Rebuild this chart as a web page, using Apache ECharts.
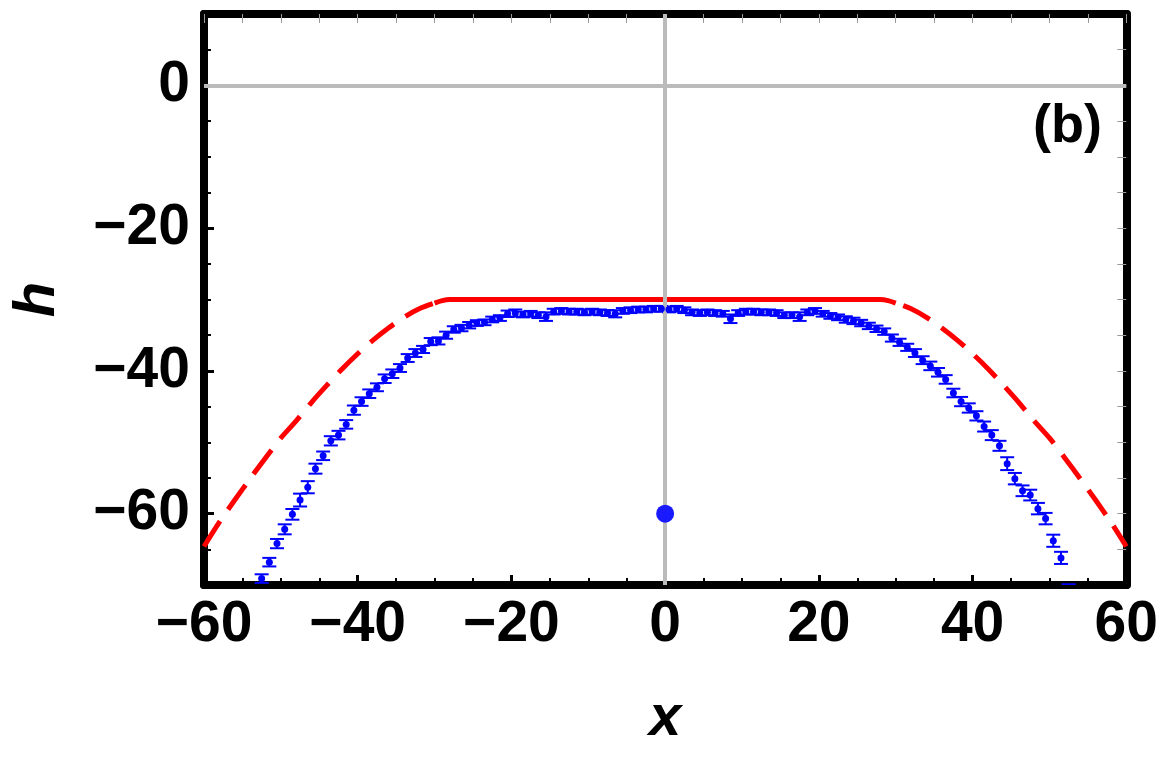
<!DOCTYPE html>
<html>
<head>
<meta charset="utf-8">
<script src="https://cdn.jsdelivr.net/npm/echarts@6/dist/echarts.min.js"></script>
<style>
  html, body { margin: 0; padding: 0; background: #fff; }
  #main { width: 1161px; height: 759px; }
</style>
</head>
<body>
<div id="main"></div>
<script>
// measured points (x, h, error)
var pointX = [
  -52.5, -51.5, -50.5, -49.5, -48.5, -47.5, -46.5, -45.5, -44.5, -43.5,
  -42.5, -41.5, -40.5, -39.5, -38.5, -37.5, -36.5, -35.5, -34.5, -33.5,
  -32.5, -31.5, -30.5, -29.5, -28.5, -27.5, -26.5, -25.5, -24.5, -23.5,
  -22.5, -21.5, -20.5, -19.5, -18.5, -17.5, -16.5, -15.5, -14.5, -13.5,
  -12.5, -11.5, -10.5, -9.5, -8.5, -7.5, -6.5, -5.5, -4.5, -3.5,
  -2.5, -1.5, -0.5, 0.5, 1.5, 2.5, 3.5, 4.5, 5.5, 6.5,
  7.5, 8.5, 9.5, 10.5, 11.5, 12.5, 13.5, 14.5, 15.5, 16.5,
  17.5, 18.5, 19.5, 20.5, 21.5, 22.5, 23.5, 24.5, 25.5, 26.5,
  27.5, 28.5, 29.5, 30.5, 31.5, 32.5, 33.5, 34.5, 35.5, 36.5,
  37.5, 38.5, 39.5, 40.5, 41.5, 42.5, 43.5, 44.5, 45.5, 46.5,
  47.5, 48.5, 49.5, 50.5, 51.5, 52.5
];
var pointH = [
  -69.1, -66.8, -64.2, -62.2, -60.1, -58.1, -56.3, -53.7, -51.9, -49.8,
  -49.0, -47.5, -45.5, -44.3, -43.2, -42.3, -41.1, -40.4, -39.6, -38.2,
  -37.5, -37.0, -35.9, -35.8, -35.0, -34.2, -34.0, -33.6, -33.3, -33.2,
  -32.8, -32.6, -32.0, -31.9, -32.1, -32.0, -32.2, -32.4, -31.7, -31.6,
  -31.7, -31.7, -31.8, -31.7, -31.8, -31.9, -32.0, -31.6, -31.5, -31.4,
  -31.4, -31.3, -31.3, -31.4, -31.3, -31.5, -31.8, -31.9, -31.8, -31.9,
  -32.0, -32.7, -31.9, -31.7, -31.7, -31.8, -31.8, -31.9, -32.2, -32.2,
  -32.4, -31.8, -31.6, -32.0, -32.3, -32.5, -32.8, -33.0, -33.3, -33.7,
  -34.1, -34.5, -35.4, -36.0, -36.7, -37.5, -38.5, -39.3, -40.2, -41.2,
  -43.1, -44.3, -45.2, -46.3, -47.8, -49.0, -50.5, -53.0, -55.1, -56.8,
  -57.4, -59.3, -60.7, -63.8, -66.2, -70.8
];
var pointErr = [
  0.6, 0.6, 0.65, 0.7, 0.75, 0.9, 0.85, 0.7, 0.6, 0.65,
  0.6, 0.6, 0.65, 0.6, 0.6, 0.55, 0.6, 0.6, 0.55, 0.55,
  0.55, 0.5, 0.5, 0.5, 0.5, 0.45, 0.45, 0.45, 0.4, 0.4,
  0.4, 0.4, 0.45, 0.5, 0.4, 0.4, 0.4, 0.6, 0.4, 0.4,
  0.4, 0.4, 0.4, 0.4, 0.4, 0.4, 0.5, 0.4, 0.4, 0.4,
  0.4, 0.4, 0.4, 0.4, 0.4, 0.4, 0.4, 0.4, 0.4, 0.4,
  0.4, 0.6, 0.4, 0.4, 0.4, 0.4, 0.4, 0.4, 0.4, 0.4,
  0.6, 0.4, 0.4, 0.4, 0.4, 0.4, 0.45, 0.45, 0.45, 0.45,
  0.45, 0.45, 0.5, 0.5, 0.5, 0.55, 0.55, 0.6, 0.6, 0.6,
  0.6, 0.65, 0.65, 0.65, 0.7, 0.7, 0.7, 0.9, 0.8, 0.75,
  0.75, 0.8, 0.8, 0.85, 0.85, 0.9
];

// theory curve: solid plateau, dashed wings
var leftDashX = [-60, -58, -56, -54, -52, -50, -48, -46, -44, -42, -40, -38, -36, -34, -32, -30];
var leftDashH = [-64.6, -61.2, -58.1, -55.1, -52.2, -49.4, -47.0, -44.4, -42.0, -39.7, -37.6, -35.7, -34.0, -32.5, -31.3, -30.5];
var plateauX = [-30, -29, -28, 28, 29, 30];
var plateauH = [-30.5, -30.15, -30, -30, -30.15, -30.5];
var rightDashX = [30, 32, 34, 36, 38, 40, 42, 44, 46, 48, 50, 52, 54, 56, 58, 60];
var rightDashH = [-30.5, -31.3, -32.5, -34.0, -35.7, -37.6, -39.7, -42.0, -44.4, -47.0, -49.4, -52.2, -55.1, -58.1, -61.2, -64.6];

var markerPoint = [[0, -60]];

var xMajor = [-60, -40, -20, 0, 20, 40, 60];
var xMinor = [-55, -50, -45, -35, -30, -25, -15, -10, -5, 5, 10, 15, 25, 30, 35, 45, 50, 55];
var yMajor = [-60, -40, -20, 0];
var yMinor = [-65, -55, -50, -45, -35, -30, -25, -15, -10, -5, 5];

function pairs(xs, ys) {
    var out = [];
    for (var i = 0; i < xs.length; i++) out.push([xs[i], ys[i]]);
    return out;
}

var pts = pairs(pointX, pointH);
var bars = [];
for (var i = 0; i < pointX.length; i++) {
    bars.push([pointX[i], pointH[i] - pointErr[i], pointH[i] + pointErr[i]]);
}

var FONT = "'Liberation Sans', Arial, sans-serif";
var minus = function (v) { return String(v).replace('-', '\u2212'); };

var myChart = echarts.init(document.getElementById('main'));

var frameLine = { show: true, onZero: false, lineStyle: { color: '#000', width: 8 } };
var hiddenLine = { show: false, onZero: false };
var noLabel = { show: false };

option = {
    backgroundColor: '#fff',
    animation: false,
    grid: { left: 204, right: 32.5, top: 14, bottom: 174 },
    xAxis: [{
        type: 'value', min: -60, max: 60, position: 'bottom',
        axisLine: frameLine,
        axisTick: { show: true, inside: true, length: 10, customValues: xMajor, lineStyle: { color: '#000', width: 3 } },
        axisLabel: {
            show: true, customValues: xMajor, margin: 12, formatter: minus,
            fontFamily: FONT, fontWeight: 'bold', fontSize: 57, color: '#000'
        },
        splitLine: { show: false },
        name: 'x', nameLocation: 'middle', nameGap: 105,
        nameTextStyle: { fontFamily: FONT, fontWeight: 'bold', fontStyle: 'italic', fontSize: 58, color: '#000' }
    }, {
        type: 'value', min: -60, max: 60, position: 'bottom',
        axisLine: hiddenLine,
        axisTick: { show: true, inside: true, length: 7, customValues: xMinor, lineStyle: { color: '#000', width: 2 } },
        axisLabel: noLabel, splitLine: { show: false }
    }, {
        type: 'value', min: -60, max: 60, position: 'top',
        axisLine: frameLine,
        axisTick: { show: true, inside: true, length: 9, customValues: xMajor.concat(xMinor), lineStyle: { color: '#999', width: 1 } },
        axisLabel: noLabel, splitLine: { show: false }
    }],
    yAxis: [{
        type: 'value', min: -70, max: 10, position: 'left',
        axisLine: frameLine,
        axisTick: { show: true, inside: true, length: 10, customValues: yMajor, lineStyle: { color: '#000', width: 3 } },
        axisLabel: {
            show: true, customValues: yMajor, margin: 14, formatter: minus,
            fontFamily: FONT, fontWeight: 'bold', fontSize: 57, color: '#000'
        },
        splitLine: { show: false },
        name: 'h', nameLocation: 'middle', nameGap: 137,
        nameTextStyle: { fontFamily: FONT, fontWeight: 'bold', fontStyle: 'italic', fontSize: 58, color: '#000' }
    }, {
        type: 'value', min: -70, max: 10, position: 'left',
        axisLine: hiddenLine,
        axisTick: { show: true, inside: true, length: 7, customValues: yMinor, lineStyle: { color: '#000', width: 2 } },
        axisLabel: noLabel, splitLine: { show: false }
    }, {
        type: 'value', min: -70, max: 10, position: 'right',
        axisLine: frameLine,
        axisTick: { show: true, inside: true, length: 9, customValues: yMajor.concat(yMinor), lineStyle: { color: '#999', width: 1 } },
        axisLabel: noLabel, splitLine: { show: false }
    }],
    graphic: [{
        type: 'text', right: 59, top: 100, z: 10,
        style: { text: '(b)', font: 'bold 54px ' + FONT, fill: '#000' }
    }],
    series: [{
        // origin axes (gray)
        type: 'line', data: [], silent: true, z: 1,
        markLine: {
            silent: true, symbol: 'none', label: { show: false },
            lineStyle: { color: '#bbbbbb', width: 4, type: 'solid' },
            data: [{ xAxis: 0 }, { yAxis: 0 }]
        }
    }, {
        type: 'line', data: pairs(leftDashX, leftDashH), showSymbol: false, smooth: 0.3, z: 3,
        lineStyle: { color: '#ff0000', width: 5, type: [30, 14] }
    }, {
        type: 'line', data: pairs(plateauX, plateauH), showSymbol: false, smooth: 0.3, z: 3,
        lineStyle: { color: '#ff0000', width: 5 }
    }, {
        type: 'line', data: pairs(rightDashX, rightDashH), showSymbol: false, smooth: 0.3, z: 3,
        lineStyle: { color: '#ff0000', width: 5, type: [30, 14], dashOffset: 36 }
    }, {
        type: 'custom', data: bars, clip: true, z: 4,
        renderItem: function (params, api) {
            var x = api.value(0);
            var lo = api.coord([x, api.value(1)]);
            var hi = api.coord([x, api.value(2)]);
            var w = 7;
            var st = { stroke: '#0000ff', lineWidth: 2 };
            return {
                type: 'group',
                children: [
                    { type: 'line', shape: { x1: hi[0], y1: hi[1], x2: lo[0], y2: lo[1] }, style: st },
                    { type: 'line', shape: { x1: hi[0] - w, y1: hi[1], x2: hi[0] + w, y2: hi[1] }, style: st },
                    { type: 'line', shape: { x1: lo[0] - w, y1: lo[1], x2: lo[0] + w, y2: lo[1] }, style: st }
                ]
            };
        }
    }, {
        type: 'scatter', data: pts, symbolSize: 7, clip: true, z: 5,
        itemStyle: { color: '#0000ff', opacity: 1 }
    }, {
        type: 'scatter', data: markerPoint, symbolSize: 18, z: 5,
        itemStyle: { color: '#1a1aff', opacity: 1 }
    }]
};

myChart.setOption(option);
</script>
</body>
</html>
